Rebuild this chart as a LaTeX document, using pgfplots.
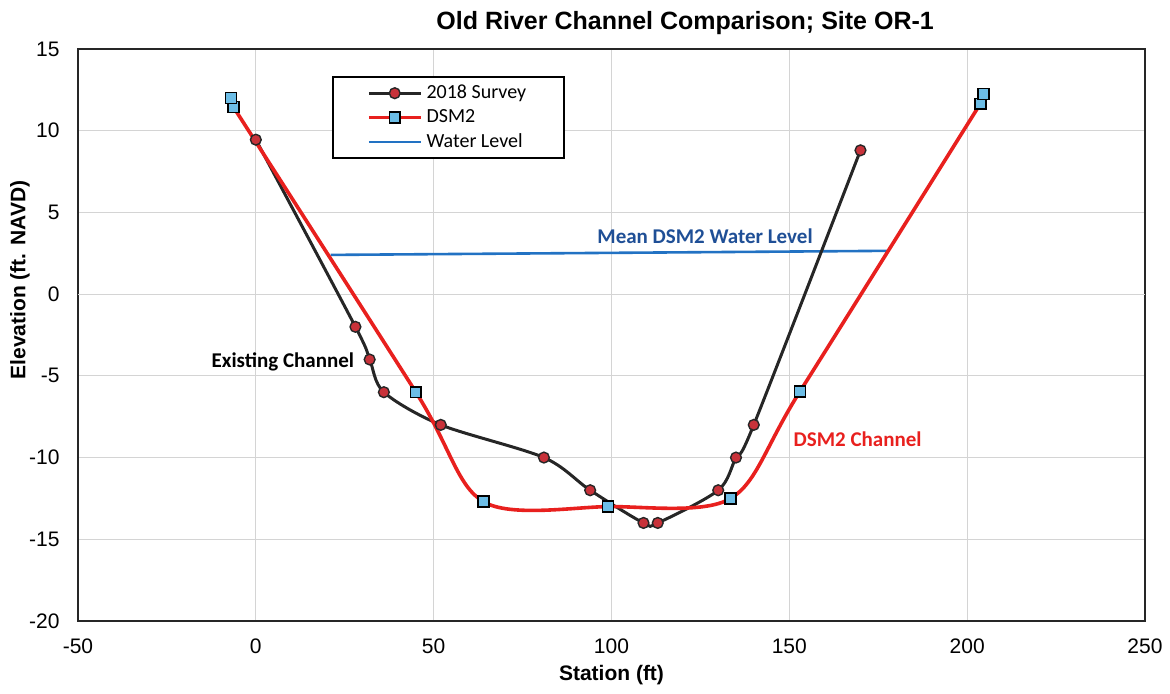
\documentclass[border=0pt]{standalone}
\usepackage{pgfplots}
\pgfplotsset{compat=1.18}
\usepackage{fontspec}
\setmainfont{Liberation Sans}
\newfontfamily\calibri{Carlito}

\definecolor{surveyline}{HTML}{262626}
\definecolor{surveymark}{HTML}{C8323A}
\definecolor{dsmline}{HTML}{E8201E}
\definecolor{dsmmark}{HTML}{6CBDE6}
\definecolor{waterline}{HTML}{2272C3}
\definecolor{watertext}{HTML}{1F4F96}
\definecolor{gridgray}{HTML}{D4D4D4}

\begin{document}
\begin{tikzpicture}
\begin{axis}[
  name=ax,
  scale only axis,
  width=533.5pt, height=286pt,
  xmin=-50, xmax=250, ymin=-20, ymax=15,
  xtick={-50,0,...,250},
  ytick={-20,-15,...,15},
  major tick length=0pt,
  grid=major,
  major grid style={gridgray, line width=0.6pt},
  axis line style={black!85, line width=0.8pt},
  /pgf/number format/assume math mode=true,
  tick label style={font=\fontsize{10.5}{12}\selectfont},
  xticklabel style={anchor=north, inner sep=0pt, yshift=-8.5pt},
  yticklabel style={anchor=east, inner sep=0pt, xshift=-9pt},
  extra y ticks={0},
  extra y tick labels={},
  extra y tick style={grid style={black!45, line width=0.7pt}},
  title={Old River Channel Comparison; Site OR-1},
  title style={font=\bfseries\fontsize{12.5}{14}\selectfont,
    at={(0.569,1)}, anchor=center, yshift=7pt},
  xlabel={Station (ft)},
  xlabel style={font=\bfseries\fontsize{10.5}{12}\selectfont,
    at={(axis description cs:0.5,0)}, anchor=center, yshift=-27pt},
  ylabel={Elevation (ft. NAVD)},
  ylabel style={font=\bfseries\fontsize{10.5}{12}\selectfont,
    at={(axis description cs:0,0.596)}, anchor=center, yshift=29pt},
  legend style={at={(0.238,0.953)}, anchor=north west,
    draw=black, line width=1pt, inner xsep=17pt, inner ysep=2pt,
    font=\calibri\fontsize{10}{11.5}\selectfont,
    row sep=0pt},
  legend cell align=left,
  legend image code/.code={%
    \draw[mark repeat=2,mark phase=2,#1]
      plot coordinates {(0pt,0pt) (13pt,0pt) (26pt,0pt)};},
]

% mean water level (drawn beneath the channel profiles)
\addplot[waterline, line width=1.3pt, forget plot]
  coordinates {(21,2.4) (178,2.65)};

% 2018 survey profile
\addplot[surveyline, line width=1.5pt, smooth,
  mark=*, mark size=2.7pt,
  mark options={fill=surveymark, draw=surveyline, line width=0.7pt}]
  coordinates {
  (0,9.45) (28,-2) (32,-4) (36,-6) (52,-8) (81,-10) (94,-12)
  (109,-14) (113,-14) (130,-12) (135,-10) (140,-8) (170,8.8)
  };
\addlegendentry{2018 Survey}

% DSM2 channel geometry
\addplot[dsmline, line width=1.8pt, smooth,
  mark=square*, mark size=2.7pt,
  mark options={fill=dsmmark, draw=black, line width=0.8pt}]
  coordinates {
  (-6.3,11.45) (45,-6) (64,-12.7) (99,-13) (133.5,-12.5)
  (153,-5.95) (203.7,11.65)
  };
\addlegendentry{DSM2}

% bank-top points of the DSM2 cross section
\addplot[only marks, forget plot, mark=square*, mark size=2.7pt,
  mark options={fill=dsmmark, draw=black, line width=0.8pt}]
  coordinates {(-7,12) (204.6,12.25)};

\addlegendimage{waterline, line width=1.3pt}
\addlegendentry{Water Level}

\node[font=\calibri\bfseries\fontsize{10.5}{12}\selectfont, text=black]
  at (axis cs:7.6,-4.16) {Existing Channel};
\node[font=\calibri\bfseries\fontsize{10.5}{12}\selectfont, text=watertext]
  at (axis cs:126.3,3.55) {Mean DSM2 Water Level};
\node[font=\calibri\bfseries\fontsize{10.5}{12}\selectfont, text=dsmline]
  at (axis cs:169.2,-8.87) {DSM2 Channel};
\end{axis}
\pgfresetboundingbox
\path[use as bounding box]
  ([xshift=-39pt,yshift=-36.5pt]ax.south west)
  rectangle ([xshift=12.5pt,yshift=24.5pt]ax.north east);
\end{tikzpicture}
\end{document}
